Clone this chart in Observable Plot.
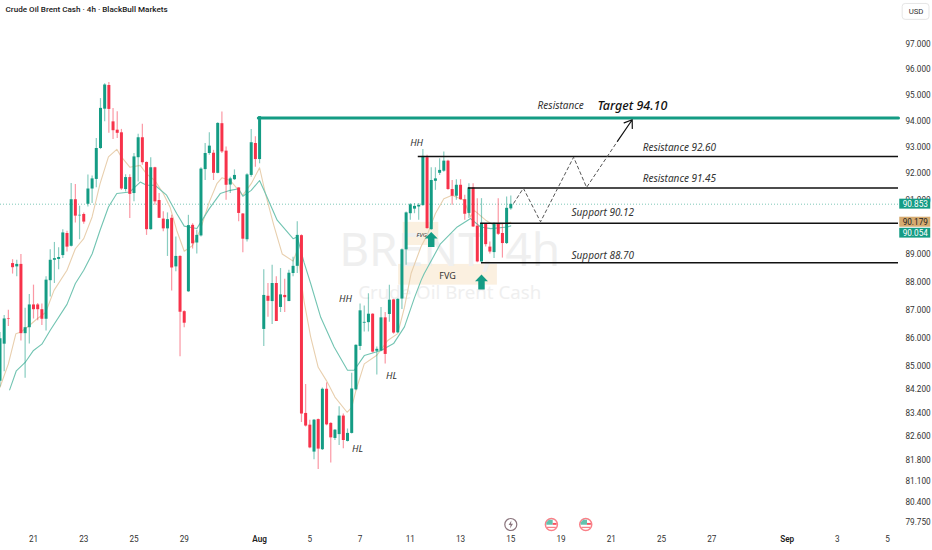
<!DOCTYPE html>
<html><head><meta charset="utf-8">
<style>html,body{margin:0;padding:0;background:#fff}svg{display:block}</style>
<script src="https://cdn.jsdelivr.net/npm/d3@7"></script>
<script src="https://cdn.jsdelivr.net/npm/@observablehq/plot@0.6"></script>
</head><body>
<script>
const open=[84.5,85.79,86.69,88.67,88.55,88.64,86.16,86.37,87.18,87.18,87.01,86.67,88.05,88.79,88.82,88.96,89.77,89.3,91.02,90.42,90.47,90.85,91.42,91.78,92.95,94.46,95.38,93.97,93.65,93.55,91.4,91.85,91.25,92.6,93.36,92.42,89.91,92.22,90.99,90.3,89.94,90.33,88.55,88.93,86.94,87.65,90.07,89.42,89.68,92.15,92.76,92.77,92.01,93.9,92.85,91.57,91.77,91.46,90.49,89.54,91.93,93.14,92.53,86.31,87.49,87.3,87.95,87.09,87.52,87.3,88.31,88.57,89.69,83.39,82.99,82.08,83.18,82.16,84.22,83.05,82.54,82.67,83.3,82.44,82.71,84.2,85.71,86.53,86.55,86.85,85.54,85.55,86.72,86.84,87.36,86.19,87.39,89.17,90.5,90.67,90.75,90.8,92.6,89.91,91.71,92.01,92.09,92.47,91.4,91.15,91.56,91.02,90.51,91.46,90.04,88.73,90.11,89.27,89.07,90.11,89.77,89.4,90.68];
const close=[85.98,86.68,86.67,88.52,88.64,86.16,86.37,87.18,87.01,87.01,86.67,88.07,88.79,88.85,88.89,89.79,89.27,91.02,90.41,90.44,90.19,91.42,91.8,92.95,94.49,95.4,94.45,93.63,93.53,91.42,91.85,91.22,92.63,93.36,92.41,89.91,92.22,90.94,90.33,89.94,90.28,88.51,88.93,86.92,86.53,90.06,89.39,89.7,92.17,92.76,93.04,92.01,93.91,92.82,91.56,91.8,91.93,90.51,89.56,91.95,93.17,92.53,94.17,87.52,87.31,87.95,86.59,87.54,87.44,88.32,88.57,89.7,83.37,82.96,82.22,83.16,82.18,84.22,83,82.56,82.82,83.3,82.47,82.71,84.23,85.75,86.97,86.56,86.85,85.51,85.61,86.72,85.43,87.35,86.18,87.38,89.17,90.53,90.83,90.77,90.81,92.65,89.95,91.74,91.8,92.12,92.47,91.4,91.15,91.56,91.02,90.48,91.46,90.01,88.73,90.14,89.36,89.09,90.14,89.74,89.4,90.7,90.85];
const high=[86.2,86.8,86.99,88.81,88.79,89,87.06,87.55,87.89,87.23,87.21,88.19,89.17,89.44,89.25,89.91,89.85,91.63,91.59,90.78,90.53,91.95,91.91,93.33,94.87,95.45,95.5,94.49,94.36,93.68,91.96,91.96,92.76,93.49,93.88,92.44,92.6,92.24,91.25,90.57,90.53,90.44,89.64,88.95,86.97,90.44,90.13,89.89,92.22,93.14,93.55,92.88,93.94,94.35,93.01,91.86,92.14,91.47,90.51,91.99,93.68,93.4,94.17,88.45,87.95,88.61,88.19,88.49,88.1,88.43,88.9,90.2,89.72,84.38,83.16,83.18,83.2,84.26,84.44,83.07,82.84,83.62,83.37,82.86,84.77,85.77,87.21,87.14,87.58,86.87,85.69,87.09,86.91,87.89,87.38,87.4,89.2,90.56,90.88,90.88,90.88,92.91,92.69,92.22,92.22,92.56,92.82,92.5,91.74,91.77,91.77,91.19,91.62,91.62,91.06,91.06,90.14,89.46,90.16,91.06,90.14,91.12,91.16];
const low=[84.3,84.83,86.41,88.29,88.19,85.9,84.6,85.8,86.68,86.62,86.45,86.25,87.46,87.95,88.45,88.85,89.09,89.27,90.16,89.54,90.11,90.75,90.88,91.47,92.91,93.97,93.53,93.29,93.33,91.37,91.31,90.32,90.94,91.68,92.31,89.7,89.89,90.81,90.32,89.83,88.93,87.68,88.37,85.35,86.37,87.63,89.2,89.02,89.64,91.74,92.69,91.74,91.99,92.76,91,91.25,91.74,90.2,89.06,89.46,91.86,92.24,92.37,85.71,86.74,86.48,86.59,86.91,86.91,87.3,88.19,88.31,83.08,82.93,82.19,81.82,81.5,82.13,82.97,81.71,82.47,82.3,82.19,82.42,82.69,84.17,85.57,86.22,86.22,85.48,84.71,85.52,85.1,86.56,86.14,86.17,87.02,88.61,90.26,90.5,90.26,90.78,89.93,89.89,91.37,91.93,92.05,91.37,90.81,91,91,90.26,90.32,89.99,88.7,88.67,89.27,89.02,88.85,89.7,88.87,89.37,90.63];

const tanIndex=[0,2,3.8,5,7,8.8,10.9,12.9,16,18,20,22,23.9,25.9,27.9,28.9,31,33.5,35,37,39,40.6,42.2,44,46,47.8,50,51.8,53,55,57,58,60,62,63.4,65.4,67.4,70,71,72.6,74.2,76,78,80,82.9,84,85,87,90,92.6,95,96.6,98.2,100.6,102,104,106,108,110.8,112.4,113.2,116,118,122];
const tanValue=[84.29,85.1,86.16,86.22,86.45,86.68,86.91,87.7,88.43,89.21,89.58,90.38,91.62,92.63,92.92,92.65,92.24,92.31,91.99,91.74,91.25,90.75,89.89,89.12,89.33,89.89,90.94,91.62,91.84,91.74,91.37,91.19,91.62,92.22,91.25,90.07,89.02,88.76,89.15,87.33,86.05,84.98,84.51,83.95,83.43,83.6,84.17,85.1,85.4,85.92,86.16,87.09,88.32,89.3,89.7,90.51,91.06,91.19,91,90.38,90.63,90.26,90.07,90.18];
const tealIndex=[2.3,3.9,6,8,10,12,16,18,20,22,23.9,25.9,27.9,31,33.5,35,37,39.8,42.2,44,47,50,52.6,55,57,58,60,62,63.4,66.2,70,71,72.6,74.2,76.6,79.8,83,84.6,87,91,94,96.6,99,100.6,101.3,105.2,109.2,112.4,114.8,117.2,121.2,122];
const tealValue=[84.2,84.86,85.15,85.57,85.79,86.28,87.2,87.95,88.43,89.02,89.89,90.75,91.25,91.31,91.68,91.56,91.56,91.19,90.51,90.04,89.95,90.69,91.25,91.37,91.43,91.15,91.37,91.74,91.25,90.26,89.58,89.64,88.72,87.95,86.74,85.69,84.88,84.88,85.39,85.57,85.81,86.4,87.44,88.07,88.3,89.39,90.01,90.32,90.01,89.95,90.01,90.05];

const priceTicks=[97,96,95,94,93,92,91,89,88,87,86,85,84.2,83.4,82.6,81.8,81.1,80.4,79.75];
const dateIndex=[8,20,32,44,74,86,98,110,122,134,146,158,170,200,212];
const dateLabels=["21","23","25","29","5","7","11","13","15","19","21","25","27","3","5"];
const monthIndex=[62,188];
const monthLabels=["Aug","Sep"];

const levelPrice=[92.65,91.46,90.15,88.7];
const levelStart=[99.9,111.9,114.8,115];
const targetPathIndex=[61.7,214.6];
const targetPathPrice=[94.115,94.115];
const zigzagIndex=[122.7,125,129.1,137,140.1,147.5];
const zigzagPrice=[90.89,91.45,90.2,92.62,91.48,93.23];
const labelText=["Resistance 92.60","Resistance 91.45","Support 90.12","Support 88.70","Resistance"];
const labelIndex=[153.5,153.5,136.5,136.5,128.4];
const labelPrice=[92.98,91.8,90.54,88.96,94.58];
const swingText=["HH","HH","HL","HL"];
const swingIndex=[99.5,82.5,93.5,85.4];
const swingPrice=[93.15,87.4,84.69,82.17];
const badgeText=["90.853","90.179","90.054"];
const badgeMid=[90.85,90.18,89.78];
const badgeTop=[91.04,90.37,89.96];
const badgeBottom=[90.67,90.0,89.6];
const badgeFill=["#149c84","#d6ab70","#149c84"];
const badgeInk=["#fff","#222","#fff"];
const boxLeft=[96.3,95.2], boxRight=[104.8,118.8], boxTop=[90.18,88.64], boxBottom=[89.33,87.89];
const upIndex=[103,115], upPrice=[89.55,88.0];
const flagIndex=[131.7,139.9], eventPrice=79.68, boltIndex=122;

const candles=open.map((o,i)=>({i,o,c:close[i],h:high[i],l:low[i]}));
const ups=candles.filter(d=>d.c>=d.o), downs=candles.filter(d=>d.c<d.o);
const zip=(xs,ys)=>xs.map((x,k)=>({x,y:ys[k]}));
const tan=zip(tanIndex,tanValue), teal=zip(tealIndex,tealValue);
const GREEN="#149c84", RED="#f7324a", FONT="Roboto,'Noto Sans',sans-serif";

const poly=(pts)=>({draw(ctx,size){const s=Math.sqrt(size/Math.PI);pts.forEach(([a,b],k)=>k?ctx.lineTo(a*s,b*s):ctx.moveTo(a*s,b*s));ctx.closePath();}});
const upArrow=poly([[0,-1],[.86,-.12],[.43,-.12],[.43,1],[-.43,1],[-.43,-.12],[-.86,-.12]]);
const bolt=poly([[.15,-1],[-.55,.12],[-.05,.12],[-.2,1],[.55,-.2],[.05,-.2]]);
const canton=poly([[-.8,.05],[-.8,-.3],[-.4,-.75],[.2,-.75],[.2,.05]]);
const stripe=poly([[.2,-.25],[.8,-.25],[.8,.05],[.2,.05]]);
const lower=poly([[-.7,.35],[.7,.35],[.7,.55],[-.7,.55]]);

const chart=Plot.plot({
  width:932,height:550,marginLeft:0,marginRight:34,marginTop:0,marginBottom:18,
  style:{fontFamily:FONT,fontSize:"8px",color:"#333",background:"#fff"},
  x:{type:"linear",domain:[0.12,214.6],axis:null},
  y:{type:"log",domain:[79.42,98.76],axis:null},
  marks:[
    Plot.rect(boxLeft.map((x,k)=>k),{x1:k=>boxLeft[k],x2:k=>boxRight[k],y1:k=>boxBottom[k],y2:k=>boxTop[k],fill:"#fbf0e0"}),
    Plot.text(["BRENT, 4h"],{x:107.4,y:89.1,text:d=>d,fontSize:46,fontFamily:"'Noto Sans'",fill:"#efefef",textAnchor:"middle"}),
    Plot.text(["Crude Oil Brent Cash"],{x:107.4,y:87.62,text:d=>d,fontSize:18.7,fontFamily:"'Noto Sans'",fill:"#efefef",textAnchor:"middle"}),
    Plot.ruleY([90.853],{stroke:"#7fc8b8",strokeDasharray:"1,2",strokeWidth:1}),
    Plot.line(tan,{x:"x",y:"y",stroke:"#e8cfae",strokeWidth:1.1}),
    Plot.line(teal,{x:"x",y:"y",stroke:"#72c4b2",strokeWidth:1.1}),
    Plot.ruleX(ups,{x:"i",y1:"l",y2:"h",stroke:GREEN,strokeOpacity:.5,strokeWidth:1.2}),
    Plot.ruleX(downs,{x:"i",y1:"l",y2:"h",stroke:RED,strokeOpacity:.5,strokeWidth:1.2}),
    Plot.ruleX(ups,{x:"i",y1:"o",y2:"c",stroke:GREEN,strokeWidth:3}),
    Plot.ruleX(downs,{x:"i",y1:"o",y2:"c",stroke:RED,strokeWidth:3}),
    Plot.line(zip(targetPathIndex,targetPathPrice),{x:"x",y:"y",stroke:GREEN,strokeWidth:3}),
    Plot.ruleY(levelPrice,{x1:(d,k)=>levelStart[k],x2:214.6,stroke:"#111",strokeWidth:1.5}),
    Plot.line(zip(zigzagIndex,zigzagPrice),{x:"x",y:"y",stroke:"#555",strokeWidth:1,strokeDasharray:"3,3"}),
    Plot.arrow([0],{x1:147.5,y1:93.23,x2:151,y2:94.05,bend:0,stroke:"#111",strokeWidth:1.2,headLength:11,headAngle:70}),
    Plot.dot(zip(upIndex,upPrice),{x:"x",y:"y",r:7.5,symbol:upArrow,fill:GREEN,stroke:"none"}),
    Plot.text(labelText,{x:(d,k)=>labelIndex[k],y:(d,k)=>labelPrice[k],text:d=>d,textAnchor:"start",fontFamily:"'Noto Sans'",fontStyle:"italic",fontSize:10,fill:"#333",style:{letterSpacing:".35px"}}),
    Plot.text(["Target 94.10"],{x:142.7,y:94.58,text:d=>d,textAnchor:"start",fontFamily:"'Noto Sans'",fontStyle:"italic",fontWeight:500,fontSize:12.5,fill:"#111"}),
    Plot.text(swingText,{x:(d,k)=>swingIndex[k],y:(d,k)=>swingPrice[k],text:d=>d,fontFamily:"'Noto Sans'",fontStyle:"italic",fontSize:9.5,fill:"#333"}),
    Plot.text(["FVG"],{x:100.7,y:89.7,text:d=>d,fontFamily:"'Noto Sans'",fontStyle:"italic",fontSize:6,fill:"#333"}),
    Plot.text(["FVG"],{x:106.9,y:88.22,text:d=>d,fontFamily:"'Noto Sans'",fontSize:9,fill:"#333"}),
    Plot.axisY({anchor:"right",ticks:priceTicks,tickFormat:d3.format(".3f"),tickSize:0,tickPadding:7,label:null,fill:"#333",fontSize:8.2}),
    Plot.axisX({ticks:dateIndex,tickFormat:i=>dateLabels[dateIndex.indexOf(i)],tickSize:0,tickPadding:4,label:null,fill:"#333",fontSize:8.2}),
    Plot.axisX({ticks:monthIndex,tickFormat:i=>monthLabels[monthIndex.indexOf(i)],tickSize:0,tickPadding:4,label:null,fill:"#222",fontSize:8.2,fontWeight:600}),
    Plot.rect(badgeText,{x1:214.9,x2:222.3,y1:(d,k)=>badgeBottom[k],y2:(d,k)=>badgeTop[k],fill:(d,k)=>badgeFill[k]}),
    Plot.text(badgeText,{x:218.6,y:(d,k)=>badgeMid[k],text:d=>d,fontSize:8.2,fill:(d,k)=>badgeInk[k]}),
    Plot.rect(["USD"],{x1:215.6,x2:222,y1:97.98,y2:98.62,fill:"#fff",stroke:"#e6e6e6",rx:3}),
    Plot.text(["USD"],{x:218.8,y:98.3,text:d=>d,fontSize:7.8,fill:"#333"}),
    Plot.dot([boltIndex],{x:d=>d,y:eventPrice,r:6,fill:"#fff",stroke:"#8a747c",strokeWidth:1.2}),
    Plot.dot([boltIndex],{x:d=>d,y:eventPrice,r:4,symbol:bolt,fill:"#8a747c",stroke:"none"}),
    Plot.dot(flagIndex,{x:d=>d,y:eventPrice,r:6,fill:"#fff",stroke:"#f98088",strokeWidth:1.5}),
    Plot.dot(flagIndex,{x:d=>d,y:eventPrice,r:6.4,symbol:canton,fill:"#63c2ae",stroke:"none"}),
    Plot.dot(flagIndex,{x:d=>d,y:eventPrice,r:6.4,symbol:stripe,fill:"#f7525f",stroke:"none"}),
    Plot.dot(flagIndex,{x:d=>d,y:eventPrice,r:6.4,symbol:lower,fill:"#f98088",stroke:"none"}),
    Plot.text(["Crude Oil Brent Cash · 4h · BlackBull Markets"],{frameAnchor:"top-left",dx:5,dy:6,text:d=>d,fontSize:8.1,fontWeight:500,fill:"#1a1a1a",textAnchor:"start"})
  ]
});
document.body.appendChild(chart);
</script>
</body></html>
